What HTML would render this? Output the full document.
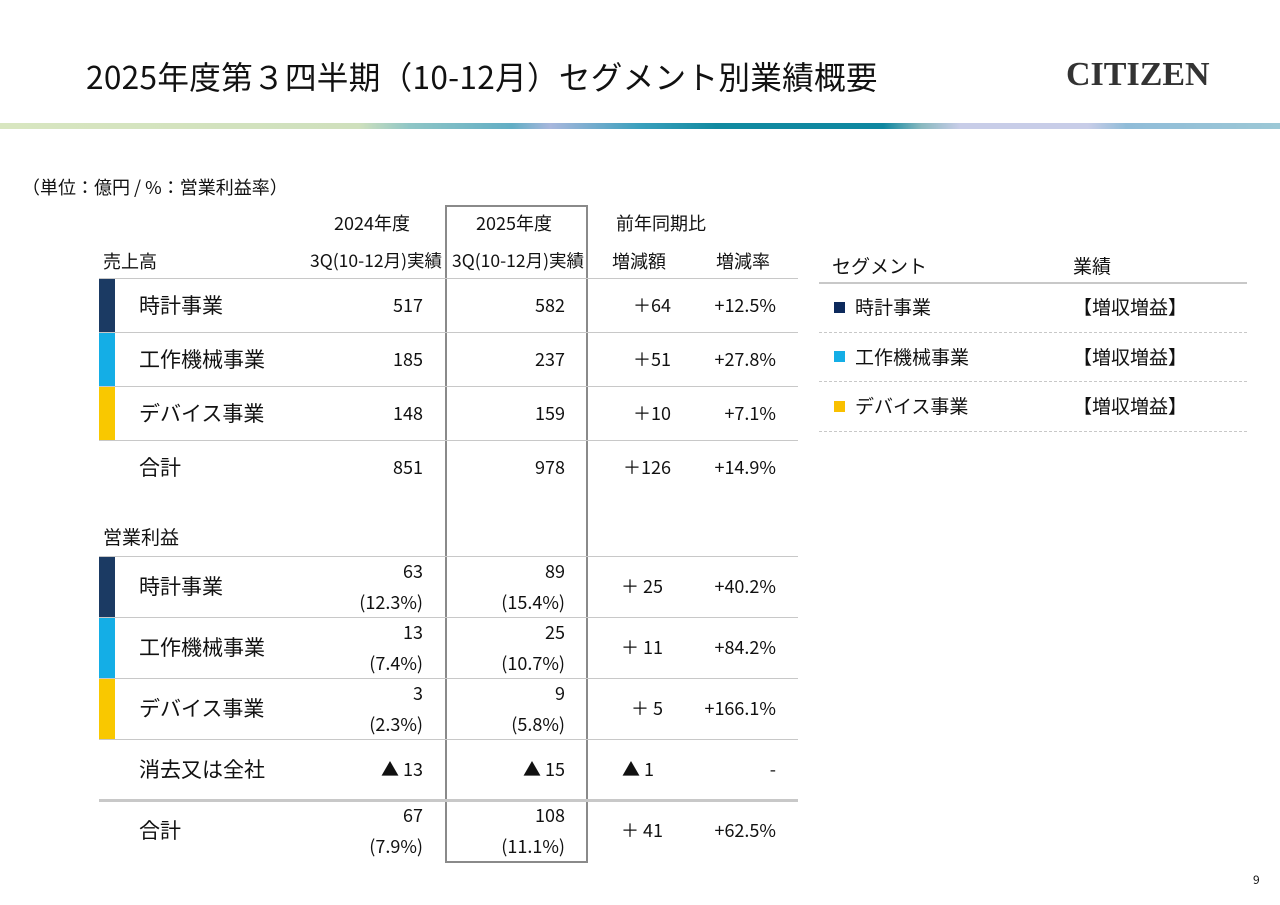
<!DOCTYPE html>
<html><head><meta charset="utf-8"><style>
body{margin:0;width:1280px;height:905px;background:#fff;position:relative;overflow:hidden;font-family:"Noto Sans CJK JP",sans-serif;color:#111}
div{position:absolute;white-space:nowrap}
.t{font-size:18px;line-height:20px}
.r{font-size:19px;line-height:20px}
.l{font-size:21px;line-height:20px}
.s{font-size:18px;line-height:20px}
.h{height:1px;background:#c8c8c8}
.bar{width:16px;left:99px}
</style></head><body>
<div style="left:86px;top:54px;font-size:31.6px;line-height:44px;letter-spacing:0.3px">2025年度第３四半期（10-12月）セグメント別業績概要</div>
<div style="left:1066px;top:56px;font-size:34px;font-weight:bold;font-family:'Liberation Serif',serif;color:#333">CITIZEN</div>
<div style="left:0;top:123px;width:1280px;height:6px;background:linear-gradient(90deg,#d8e6c0 0%,#cfe0bd 28%,#8fc6c6 32%,#62aec5 40%,#a8b7dd 43%,#3aa0bd 50%,#118aa0 56%,#0e87a0 69%,#8ab9c0 72%,#c8cde8 75%,#c8cde8 85%,#90bcd8 88%,#9cc8d6 100%)"></div>
<div class="t" style="left:22px;top:177px">（単位：億円 / %：営業利益率）</div>
<div style="left:445px;top:205px;width:139px;height:654px;border:2px solid #8a8a8a"></div>
<div class="t" style="left:334px;top:213px">2024年度</div>
<div class="t" style="left:476px;top:213px">2025年度</div>
<div class="t" style="left:616px;top:213px">前年同期比</div>
<div class="t" style="left:103px;top:251px">売上高</div>
<div class="s" style="right:838px;top:251px;font-size:17.5px">3Q(10-12月)実績</div>
<div class="s" style="right:696px;top:251px;font-size:17.5px">3Q(10-12月)実績</div>
<div class="t" style="left:612px;top:251px">増減額</div>
<div class="t" style="left:716px;top:251px">増減率</div>
<div class="h" style="left:99px;top:278px;width:699px"></div>
<div class="h" style="left:99px;top:332px;width:699px"></div>
<div class="h" style="left:99px;top:386px;width:699px"></div>
<div class="h" style="left:99px;top:440px;width:699px"></div>
<div class="bar" style="top:279px;height:53px;background:#1b3a63"></div>
<div class="bar" style="top:333px;height:53px;background:#14aee6"></div>
<div class="bar" style="top:387px;height:53px;background:#f9c800"></div>
<div class="l" style="left:139px;top:295px">時計事業</div>
<div class="t" style="right:857px;top:295px">517</div>
<div class="t" style="right:715px;top:295px">582</div>
<div class="t" style="right:609px;top:295px">＋64</div>
<div class="t" style="right:504px;top:295px">+12.5%</div>
<div class="l" style="left:139px;top:349px">工作機械事業</div>
<div class="t" style="right:857px;top:349px">185</div>
<div class="t" style="right:715px;top:349px">237</div>
<div class="t" style="right:609px;top:349px">＋51</div>
<div class="t" style="right:504px;top:349px">+27.8%</div>
<div class="l" style="left:139px;top:403px">デバイス事業</div>
<div class="t" style="right:857px;top:403px">148</div>
<div class="t" style="right:715px;top:403px">159</div>
<div class="t" style="right:609px;top:403px">＋10</div>
<div class="t" style="right:504px;top:403px">+7.1%</div>
<div class="l" style="left:139px;top:457px">合計</div>
<div class="t" style="right:857px;top:457px">851</div>
<div class="t" style="right:715px;top:457px">978</div>
<div class="t" style="right:609px;top:457px">＋126</div>
<div class="t" style="right:504px;top:457px">+14.9%</div>
<div class="t" style="left:103px;top:527px;font-size:19px">営業利益</div>
<div class="h" style="left:99px;top:556px;width:699px"></div>
<div class="h" style="left:99px;top:617px;width:699px"></div>
<div class="h" style="left:99px;top:678px;width:699px"></div>
<div class="h" style="left:99px;top:739px;width:699px"></div>
<div style="left:99px;top:799px;width:699px;height:3px;background:#c8c8c8"></div>
<div class="bar" style="top:557px;height:60px;background:#1b3a63"></div>
<div class="bar" style="top:618px;height:60px;background:#14aee6"></div>
<div class="bar" style="top:679px;height:60px;background:#f9c800"></div>
<div class="l" style="left:139px;top:576px">時計事業</div>
<div class="t" style="right:857px;top:561px">63</div>
<div class="s" style="right:857px;top:592px">(12.3%)</div>
<div class="t" style="right:715px;top:561px">89</div>
<div class="s" style="right:715px;top:592px">(15.4%)</div>
<div class="t" style="right:617px;top:576px">＋ 25</div>
<div class="t" style="right:504px;top:576px">+40.2%</div>
<div class="l" style="left:139px;top:637px">工作機械事業</div>
<div class="t" style="right:857px;top:622px">13</div>
<div class="s" style="right:857px;top:653px">(7.4%)</div>
<div class="t" style="right:715px;top:622px">25</div>
<div class="s" style="right:715px;top:653px">(10.7%)</div>
<div class="t" style="right:617px;top:637px">＋ 11</div>
<div class="t" style="right:504px;top:637px">+84.2%</div>
<div class="l" style="left:139px;top:698px">デバイス事業</div>
<div class="t" style="right:857px;top:683px">3</div>
<div class="s" style="right:857px;top:714px">(2.3%)</div>
<div class="t" style="right:715px;top:683px">9</div>
<div class="s" style="right:715px;top:714px">(5.8%)</div>
<div class="t" style="right:617px;top:698px">＋ 5</div>
<div class="t" style="right:504px;top:698px">+166.1%</div>
<div class="l" style="left:139px;top:759px">消去又は全社</div>
<div class="t" style="right:857px;top:759px">▲ 13</div>
<div class="t" style="right:715px;top:759px">▲ 15</div>
<div class="t" style="left:622px;top:759px">▲ 1</div>
<div class="t" style="right:504px;top:759px">-</div>
<div class="l" style="left:139px;top:820px">合計</div>
<div class="t" style="right:857px;top:805px">67</div>
<div class="s" style="right:857px;top:836px">(7.9%)</div>
<div class="t" style="right:715px;top:805px">108</div>
<div class="s" style="right:715px;top:836px">(11.1%)</div>
<div class="t" style="right:617px;top:820px">＋ 41</div>
<div class="t" style="right:504px;top:820px">+62.5%</div>
<div class="r" style="left:832px;top:256px">セグメント</div>
<div class="r" style="left:1073px;top:256px">業績</div>
<div style="left:819px;top:282px;width:428px;height:2px;background:#c8c8c8"></div>
<div style="left:834px;top:302px;width:11px;height:11px;background:#0d2a5c"></div>
<div class="r" style="left:855px;top:297px">時計事業</div>
<div class="r" style="left:1073px;top:297px">【増収増益】</div>
<div style="left:819px;top:332px;width:428px;border-top:1px dashed #c8c8c8"></div>
<div style="left:834px;top:351px;width:11px;height:11px;background:#14aee6"></div>
<div class="r" style="left:855px;top:347px">工作機械事業</div>
<div class="r" style="left:1073px;top:347px">【増収増益】</div>
<div style="left:819px;top:381px;width:428px;border-top:1px dashed #c8c8c8"></div>
<div style="left:834px;top:401px;width:11px;height:11px;background:#f9c000"></div>
<div class="r" style="left:855px;top:396px">デバイス事業</div>
<div class="r" style="left:1073px;top:396px">【増収増益】</div>
<div style="left:819px;top:431px;width:428px;border-top:1px dashed #c8c8c8"></div>
<div style="left:1253px;top:871px;font-size:12px">9</div>
</body></html>
